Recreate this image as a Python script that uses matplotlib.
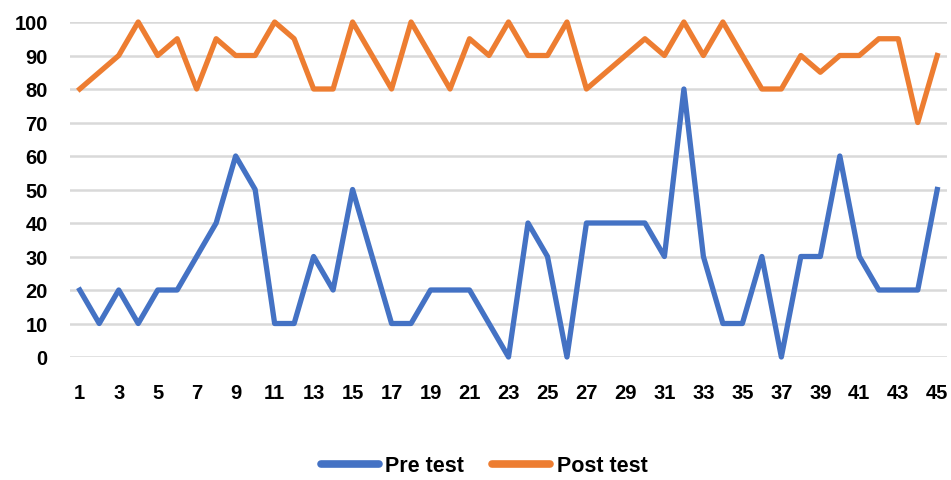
import matplotlib
matplotlib.use("Agg")
import matplotlib.pyplot as plt

# data
students = list(range(1, 46))
pre_test = [20, 10, 20, 10, 20, 20, 30, 40, 60, 50,
            10, 10, 30, 20, 50, 30, 10, 10, 20, 20,
            20, 10, 0, 40, 30, 0, 40, 40, 40, 40,
            30, 80, 30, 10, 10, 30, 0, 30, 30, 60,
            30, 20, 20, 20, 50]
post_test = [80, 85, 90, 100, 90, 95, 80, 95, 90, 90,
             100, 95, 80, 80, 100, 90, 80, 100, 90, 80,
             95, 90, 100, 90, 90, 100, 80, 85, 90, 95,
             90, 100, 90, 100, 90, 80, 80, 90, 85, 90,
             90, 95, 95, 70, 90]
yticks = list(range(0, 101, 10))

plt.rcParams['font.family'] = ['Liberation Sans', 'DejaVu Sans']
plt.rcParams['font.weight'] = 'bold'

fig = plt.figure(figsize=(9.51, 4.81), dpi=100)
ax = fig.add_axes([70 / 951, 123 / 481, 877 / 951, 335 / 481])

ax.plot(students, pre_test, color='#4472C4', lw=3.8, label='Pre test',
        solid_joinstyle='round', clip_on=False)
ax.plot(students, post_test, color='#ED7D31', lw=3.8, label='Post test',
        solid_joinstyle='round', clip_on=False)

ax.set_xlim(0.5, 45.5)
ax.set_ylim(0, 100)
ax.set_yticks(yticks)
ax.set_xticks(students[::2])
ax.yaxis.grid(True, color='#d9d9d9', lw=1.8)
ax.set_axisbelow(True)
for s in ax.spines.values():
    s.set_visible(False)
ax.tick_params(axis='both', length=0, labelsize=14.5)
ax.tick_params(axis='y', pad=16)
ax.tick_params(axis='x', pad=19)
for lbl in ax.get_xticklabels() + ax.get_yticklabels():
    lbl.set_fontweight('bold')

leg = fig.legend(loc='center', bbox_to_anchor=(484 / 951, 1 - 467 / 481), ncol=2,
                 frameon=False, handlelength=2.7, handletextpad=0.3,
                 columnspacing=1.3, prop={'weight': 'bold', 'size': 15.5})
for line in leg.get_lines():
    line.set_linewidth(5.5)
    line.set_solid_capstyle('round')

fig.savefig('out.png', dpi=100)
